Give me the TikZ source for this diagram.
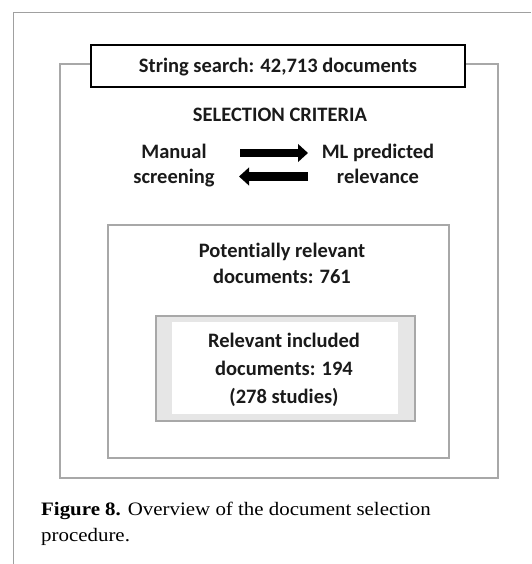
\documentclass[tikz,border=0pt]{standalone}
\usepackage{fontspec}
\setmainfont[Ligatures=NoCommon]{Carlito}
\newfontfamily\capfont[FakeStretch=1.1]{Liberation Serif}
\usetikzlibrary{arrows.meta}
\definecolor{boxgray}{HTML}{A8A8A8}
\definecolor{framegray}{HTML}{A0A0A0}
\definecolor{bandgray}{HTML}{E6E6E6}
\definecolor{inkc}{HTML}{1A1A1A}
\begin{document}
\begin{tikzpicture}[x=1pt,y=-1pt,
  lbl/.style={font=\fontsize{20.5}{26}\selectfont\bfseries, text=inkc, align=center, anchor=base, inner sep=0pt},
  graybox/.style={draw=boxgray, line width=2pt},
  blockarrow/.style={line width=8.5pt, -{Triangle[length=10pt,width=17.5pt]}}]
\useasboundingbox (0,0) rectangle (531,564);
% page frame
\draw[framegray, line width=1pt] (13.5,564) -- (13.5,12.5) -- (531,12.5);
% outer box
\node[graybox, minimum width=438pt, minimum height=414pt, inner sep=0pt, anchor=north west] (outer) at (59,63) {};
% string search box
\node[draw=black, line width=2pt, fill=white, minimum width=374pt, minimum height=42pt, inner sep=0pt,
      text height=14pt, text depth=0pt, font=\fontsize{20.5}{26}\selectfont\bfseries, text=inkc] (search) at (278,66) {String search: 42,713 documents};
% selection criteria
\node[lbl] (sel) at (280,122) {SELECTION CRITERIA};
\node[lbl, font=\fontsize{20.5}{25.5}\selectfont\bfseries] (manual) at (174,183.5) {Manual\\screening};
\node[lbl, font=\fontsize{20.5}{25.5}\selectfont\bfseries] (ml) at (378,183.5) {ML predicted\\relevance};
\coordinate (ra1) at (240,153);
\coordinate (ra2) at (308,153);
\coordinate (la1) at (308,176.5);
\coordinate (la2) at (239,176.5);
\draw[blockarrow] (ra1) -- (ra2);
\draw[blockarrow] (la1) -- (la2);
% potentially relevant box
\node[graybox, minimum width=341pt, minimum height=233pt, inner sep=0pt, anchor=north west] (potbox) at (107,224) {};
\node[lbl] (pot) at (282,283) {Potentially relevant\\documents: 761};
% relevant included box
\node[graybox, fill=bandgray, minimum width=259pt, minimum height=105pt, inner sep=0pt, anchor=north west] (relbox) at (155,315) {};
\node[fill=white, minimum width=226pt, minimum height=92pt, inner sep=0pt, anchor=north west] (relwhite) at (172,322) {};
\node[lbl, font=\fontsize{20.5}{28}\selectfont\bfseries] (rel) at (284,403) {Relevant included\\documents: 194\\(278 studies)};
% caption
\node[anchor=base west, inner sep=0pt, align=left, font=\capfont\fontsize{19}{26}\selectfont] (cap) at (41,541.5) {\textbf{Figure 8.} Overview of the document selection\\procedure.};
\end{tikzpicture}
\end{document}
